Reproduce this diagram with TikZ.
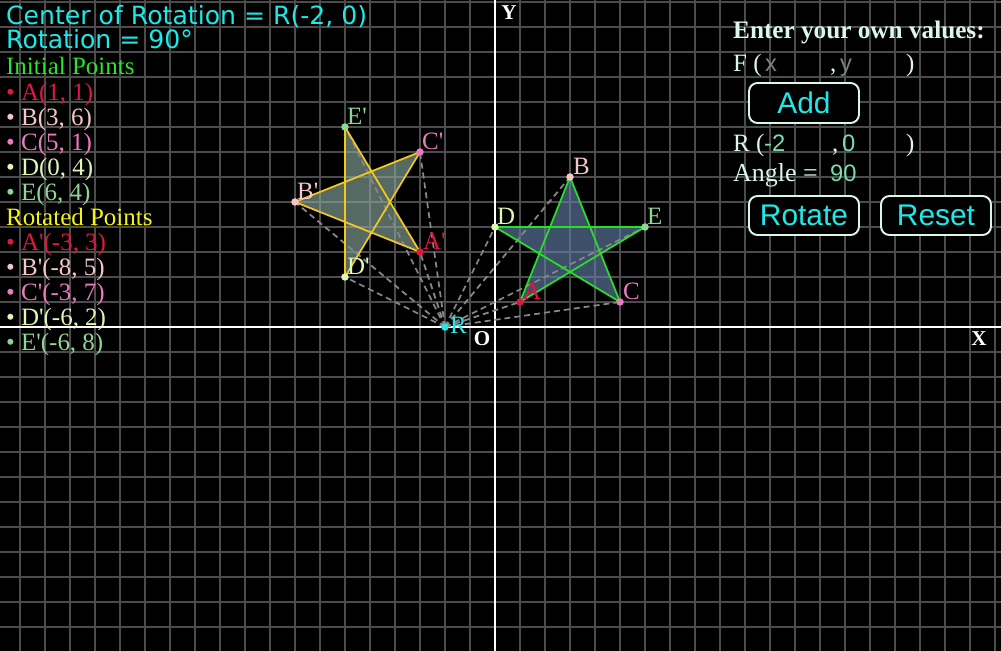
\documentclass[tikz,border=0pt]{standalone}
\usepackage{fontspec}
\setmainfont{Liberation Serif}
\newfontfamily\hdrfont{DejaVu Sans}
\newfontfamily\btnfont{Liberation Sans}
\newcommand{\pr}{\textquotesingle}
\definecolor{gridc}{RGB}{76,76,76}
\definecolor{cyanc}{RGB}{30,232,232}
\definecolor{limec}{RGB}{40,230,40}
\definecolor{yelc}{RGB}{245,245,20}
\definecolor{colA}{RGB}{222,24,64}
\definecolor{colB}{RGB}{244,198,200}
\definecolor{colC}{RGB}{236,122,192}
\definecolor{colD}{RGB}{222,246,182}
\definecolor{colE}{RGB}{140,214,150}
\definecolor{mintc}{RGB}{218,248,234}
\definecolor{valc}{RGB}{120,222,172}
\definecolor{phc}{RGB}{120,132,126}
\definecolor{stargreen}{RGB}{40,222,40}
\definecolor{starfillA}{RGB}{100,128,170}
\definecolor{staryel}{RGB}{242,200,30}
\definecolor{starfillB}{RGB}{140,172,160}
\definecolor{rayc}{RGB}{135,135,135}
\tikzset{
  gridline/.style={draw=gridc, line width=1.7pt},
  axisline/.style={draw=white, line width=2.2pt},
  serift/.style={inner sep=0pt, anchor=base west, font=\fontsize{28.4}{30}\selectfont},
  hdrt/.style={inner sep=0pt, anchor=base west, text=cyanc, font=\hdrfont\fontsize{28.6}{30}\selectfont},
  sanst/.style={inner sep=0pt, anchor=base west, font=\btnfont\fontsize{27}{29}\selectfont},
  axlabel/.style={inner sep=0pt, text=white, font=\bfseries\fontsize{24}{26}\selectfont},
  ptlabel/.style={inner sep=0pt, anchor=base west, font=\fontsize{28.4}{30}\selectfont},
  btnbox/.style={draw=mintc, fill=black, line width=2.2pt, rounded corners=0.34cm},
  btntext/.style={inner sep=0pt, text=cyanc, font=\btnfont\fontsize{34}{36}\selectfont},
  ray/.style={draw=rayc, line width=2pt, dash pattern=on 0.24cm off 0.16cm},
  starone/.style={fill=starfillA, fill opacity=0.62},
  startwo/.style={fill=starfillB, fill opacity=0.62},
  edgeone/.style={draw=stargreen, line width=2pt},
  edgetwo/.style={draw=staryel, line width=2pt},
}
\begin{document}
\begin{tikzpicture}[x=0.04cm,y=-0.04cm,line join=round]
\useasboundingbox (0,0) rectangle (1001,651);
\fill[black] (0,0) rectangle (1001,651);
% grid
\foreach \i in {0,...,39} \draw[gridline] (20+25*\i,0) -- (20+25*\i,651);
\foreach \j in {0,...,25} \draw[gridline] (0,2+25*\j) -- (1001,2+25*\j);
% axes
\coordinate (xl) at (0,327); \coordinate (xr) at (1001,327);
\coordinate (yt) at (495,0); \coordinate (yb) at (495,651);
\draw[axisline] (xl) -- (xr);
\draw[axisline] (yt) -- (yb);
\node[axlabel] (ylab) at (509,13) {Y};
\node[axlabel] (xlab) at (979,339) {X};
\node[axlabel] (olab) at (482,339) {O};

% graph
\begin{scope}[shift={(495,327)}, x=1cm, y=1cm]
\coordinate (R) at (-2,0);
\coordinate (A) at (1,1);
\coordinate (B) at (3,6);
\coordinate (C) at (5,1);
\coordinate (D) at (0,4);
\coordinate (E) at (6,4);
\coordinate (Ap) at (-3,3);
\coordinate (Bp) at (-8,5);
\coordinate (Cp) at (-3,7);
\coordinate (Dp) at (-6,2);
\coordinate (Ep) at (-6,8);
\fill[starone] (A) -- (B) -- (C) -- (D) -- (E) -- cycle;
\fill[startwo] (Ap) -- (Bp) -- (Cp) -- (Dp) -- (Ep) -- cycle;
\foreach \p in {A,B,C,D,E,Ap,Bp,Cp,Dp,Ep} \draw[ray] (R) -- (\p);
\draw[edgeone] (A) -- (B) -- (C) -- (D) -- (E) -- cycle;
\draw[edgetwo] (Ap) -- (Bp) -- (Cp) -- (Dp) -- (Ep) -- cycle;
\foreach \p/\c in {A/colA,B/colB,C/colC,D/colD,E/colE,Ap/colA,Bp/colB,Cp/colC,Dp/colD,Ep/colE}
  \fill[\c] (\p) circle[radius=0.15];
\fill[cyanc] (R) circle[radius=0.15];
\node[ptlabel, text=colA, xshift=0.12cm, yshift=0.08cm] (lA) at (A) {A};
\node[ptlabel, text=colB, xshift=0.12cm, yshift=0.08cm] (lB) at (B) {B};
\node[ptlabel, text=colC, xshift=0.12cm, yshift=0.08cm] (lC) at (C) {C};
\node[ptlabel, text=colD, xshift=0.08cm, yshift=0.08cm] (lD) at (D) {D};
\node[ptlabel, text=colE, xshift=0.08cm, yshift=0.08cm] (lE) at (E) {E};
\node[ptlabel, text=colA, xshift=0.12cm, yshift=0.08cm] (lAp) at (Ap) {A\pr};
\node[ptlabel, text=colB, xshift=0.08cm, yshift=0.08cm] (lBp) at (Bp) {B\pr};
\node[ptlabel, text=colC, xshift=0.08cm, yshift=0.08cm] (lCp) at (Cp) {C\pr};
\node[ptlabel, text=colD, xshift=0.08cm, yshift=0.08cm] (lDp) at (Dp) {D\pr};
\node[ptlabel, text=colE, xshift=0.08cm, yshift=0.08cm] (lEp) at (Ep) {E\pr};
\node[ptlabel, text=cyanc, xshift=0.2cm, yshift=-0.24cm] (lR) at (R) {R};
\end{scope}

% left texts
\node[hdrt] (h1) at (6,25) {Center of Rotation = R(-2, 0)};
\node[hdrt] (h2) at (6,49) {Rotation = 90°};
\node[serift, text=limec] (t1) at (6,75) {Initial Points};
\node[serift, text=colA] (t2) at (6,100) {• A(1, 1)};
\node[serift, text=colB] (t3) at (6,125) {• B(3, 6)};
\node[serift, text=colC] (t4) at (6,150) {• C(5, 1)};
\node[serift, text=colD] (t5) at (6,175) {• D(0, 4)};
\node[serift, text=colE] (t6) at (6,200) {• E(6, 4)};
\node[serift, text=yelc] (t7) at (6,225) {Rotated Points};
\node[serift, text=colA] (t8) at (6,250) {• A\pr(-3, 3)};
\node[serift, text=colB] (t9) at (6,275) {• B\pr(-8, 5)};
\node[serift, text=colC] (t10) at (6,300) {• C\pr(-3, 7)};
\node[serift, text=colD] (t11) at (6,325) {• D\pr(-6, 2)};
\node[serift, text=colE] (t12) at (6,350) {• E\pr(-6, 8)};

% right panel
\node[serift, text=mintc, font=\bfseries\fontsize{28.7}{30}\selectfont] (enter) at (733,38) {Enter your own values:};
\node[serift, text=mintc] (fopen) at (733,71) {F (};
\node[sanst, text=phc] (fx) at (765,71) {x};
\node[serift, text=mintc] (fcomma) at (830,71) {,};
\node[sanst, text=phc] (fy) at (840,71) {y};
\node[serift, text=mintc] (fclose) at (906,71) {)};
\draw[btnbox] (749,83) rectangle (859,123);
\node[btntext] (addt) at (804,103) {Add};
\node[serift, text=mintc] (ropen) at (733,151) {R (};
\node[sanst, text=valc] (rx) at (764,151) {-2};
\node[serift, text=mintc] (rcomma) at (832,151) {,};
\node[sanst, text=valc] (ry) at (842,151) {0};
\node[serift, text=mintc] (rclose) at (906,151) {)};
\node[serift, text=mintc, font=\fontsize{29.5}{30}\selectfont] (angle) at (733,181) {Angle =};
\node[sanst, text=valc] (angv) at (830,181) {90};
\draw[btnbox] (749,196) rectangle (859,235);
\node[btntext] (rott) at (804,215.5) {Rotate};
\draw[btnbox] (881,196) rectangle (991,235);
\node[btntext] (rest) at (936,215.5) {Reset};
\end{tikzpicture}
\end{document}
